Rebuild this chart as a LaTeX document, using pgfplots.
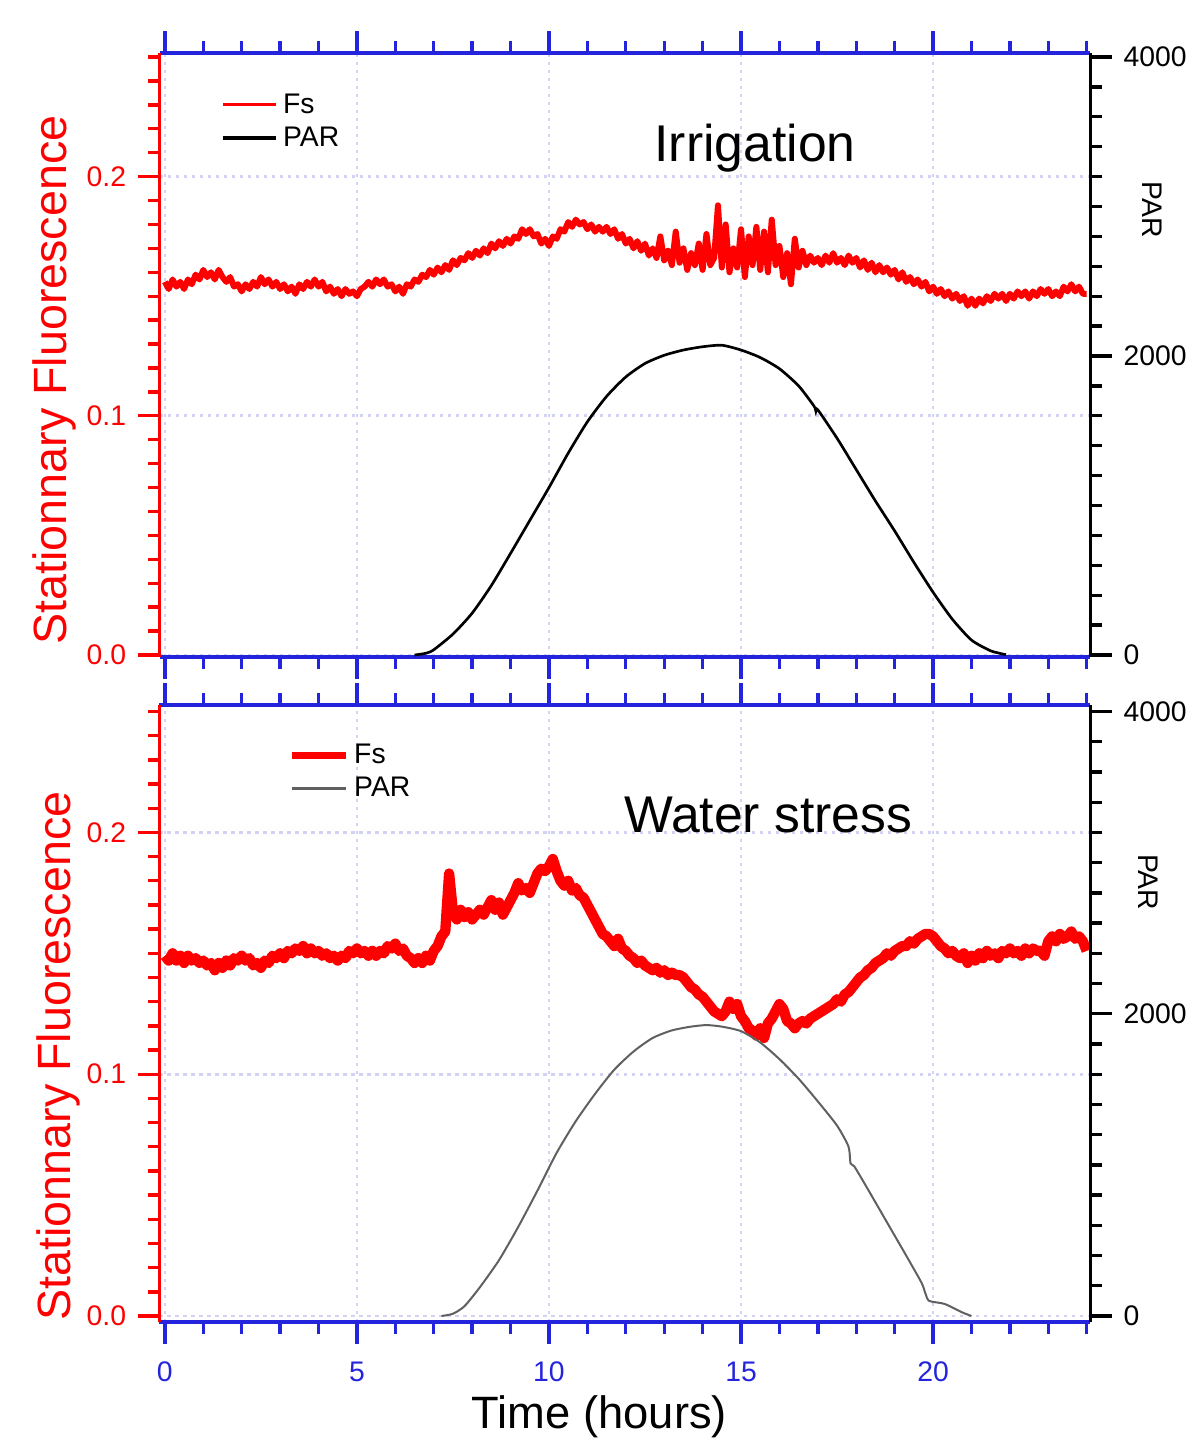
\documentclass[border=0pt]{standalone}
\usepackage{fontspec}
\setmainfont{Liberation Sans}
\usepackage{pgfplots}
\usepackage{pgfplotstable}
\pgfplotsset{compat=1.18}
\definecolor{axBlue}{HTML}{2424DC}
\definecolor{fsRed}{HTML}{FF0000}
\definecolor{gridLav}{HTML}{D2D2F4}
\definecolor{parGray}{HTML}{606060}

% Fs, irrigation
\pgfplotstableread[row sep=\\]{t fs\\
0.0 .156\\0.1 .153\\0.2 .157\\0.3 .154\\0.4 .156\\0.5 .153\\0.6 .157\\0.7 .155\\0.8 .159\\0.9 .157\\
1.0 .161\\1.1 .158\\1.2 .160\\1.3 .157\\1.4 .161\\1.5 .158\\1.6 .156\\1.7 .158\\1.8 .154\\1.9 .155\\
2.0 .152\\2.1 .155\\2.2 .153\\2.3 .156\\2.4 .154\\2.5 .158\\2.6 .155\\2.7 .157\\2.8 .154\\2.9 .156\\
3.0 .153\\3.1 .155\\3.2 .152\\3.3 .154\\3.4 .151\\3.5 .155\\3.6 .153\\3.7 .156\\3.8 .154\\3.9 .157\\
4.0 .154\\4.1 .156\\4.2 .152\\4.3 .154\\4.4 .151\\4.5 .153\\4.6 .150\\4.7 .153\\4.8 .151\\4.9 .152\\
5.0 .150\\5.1 .153\\5.2 .154\\5.3 .156\\5.4 .154\\5.5 .157\\5.6 .155\\5.7 .157\\5.8 .154\\5.9 .155\\
6.0 .152\\6.1 .154\\6.2 .151\\6.3 .155\\6.4 .154\\6.5 .157\\6.6 .156\\6.7 .159\\6.8 .158\\6.9 .161\\
7.0 .159\\7.1 .162\\7.2 .160\\7.3 .163\\7.4 .161\\7.5 .165\\7.6 .163\\7.7 .166\\7.8 .165\\7.9 .168\\
8.0 .166\\8.1 .169\\8.2 .167\\8.3 .170\\8.4 .168\\8.5 .172\\8.6 .170\\8.7 .173\\8.8 .171\\8.9 .174\\
9.0 .172\\9.1 .175\\9.2 .174\\9.3 .178\\9.4 .176\\9.5 .178\\9.6 .175\\9.7 .176\\9.8 .172\\9.9 .174\\
10.0 .171\\10.1 .175\\10.2 .174\\10.3 .178\\10.4 .177\\10.5 .181\\10.6 .179\\10.7 .182\\10.8 .180\\10.9 .181\\
11.0 .178\\11.1 .180\\11.2 .177\\11.3 .179\\11.4 .177\\11.5 .179\\11.6 .176\\11.7 .178\\11.8 .174\\11.9 .176\\
12.0 .172\\12.1 .174\\12.2 .170\\12.3 .173\\12.4 .169\\12.5 .172\\12.6 .167\\12.7 .170\\12.8 .166\\12.9 .175\\
13.0 .165\\13.1 .169\\13.2 .163\\13.3 .177\\13.4 .164\\13.5 .170\\13.6 .161\\13.7 .168\\13.8 .163\\13.9 .172\\
14.0 .161\\14.1 .176\\14.2 .163\\14.3 .166\\14.4 .188\\14.5 .162\\14.6 .180\\14.7 .160\\14.8 .170\\14.9 .162\\
15.0 .178\\15.1 .158\\15.2 .175\\15.3 .163\\15.4 .179\\15.5 .161\\15.6 .177\\15.7 .160\\15.8 .182\\15.9 .163\\
16.0 .171\\16.1 .158\\16.2 .168\\16.3 .155\\16.4 .174\\16.5 .162\\16.6 .169\\16.7 .163\\16.8 .167\\16.9 .164\\
17.0 .166\\17.1 .163\\17.2 .167\\17.3 .164\\17.4 .168\\17.5 .164\\17.6 .166\\17.7 .163\\17.8 .167\\17.9 .164\\
18.0 .166\\18.1 .162\\18.2 .165\\18.3 .161\\18.4 .164\\18.5 .160\\18.6 .163\\18.7 .160\\18.8 .162\\18.9 .159\\
19.0 .161\\19.1 .157\\19.2 .160\\19.3 .156\\19.4 .158\\19.5 .155\\19.6 .157\\19.7 .154\\19.8 .156\\19.9 .152\\
20.0 .154\\20.1 .151\\20.2 .153\\20.3 .150\\20.4 .152\\20.5 .149\\20.6 .151\\20.7 .148\\20.8 .150\\20.9 .146\\
21.0 .149\\21.1 .146\\21.2 .149\\21.3 .147\\21.4 .150\\21.5 .148\\21.6 .151\\21.7 .149\\21.8 .151\\21.9 .148\\
22.0 .151\\22.1 .149\\22.2 .152\\22.3 .150\\22.4 .152\\22.5 .149\\22.6 .152\\22.7 .150\\22.8 .153\\22.9 .151\\
23.0 .153\\23.1 .150\\23.2 .152\\23.3 .150\\23.4 .154\\23.5 .152\\23.6 .155\\23.7 .152\\23.8 .154\\23.9 .151\\
24.0 .151\\
}\fsTop

% Fs, water stress
\pgfplotstableread[row sep=\\]{t fs\\
0.0 .149\\0.1 .147\\0.2 .150\\0.3 .147\\0.4 .149\\0.5 .146\\0.6 .149\\0.7 .147\\0.8 .148\\0.9 .146\\
1.0 .147\\1.1 .145\\1.2 .146\\1.3 .143\\1.4 .146\\1.5 .144\\1.6 .147\\1.7 .145\\1.8 .148\\1.9 .147\\
2.0 .149\\2.1 .147\\2.2 .148\\2.3 .145\\2.4 .146\\2.5 .144\\2.6 .147\\2.7 .146\\2.8 .149\\2.9 .148\\
3.0 .150\\3.1 .148\\3.2 .151\\3.3 .150\\3.4 .152\\3.5 .151\\3.6 .153\\3.7 .150\\3.8 .152\\3.9 .150\\
4.0 .151\\4.1 .149\\4.2 .150\\4.3 .148\\4.4 .149\\4.5 .147\\4.6 .149\\4.7 .148\\4.8 .151\\4.9 .150\\
5.0 .152\\5.1 .150\\5.2 .151\\5.3 .149\\5.4 .151\\5.5 .149\\5.6 .151\\5.7 .150\\5.8 .153\\5.9 .152\\
6.0 .154\\6.1 .151\\6.2 .152\\6.3 .149\\6.4 .148\\6.5 .146\\6.6 .148\\6.7 .146\\6.8 .149\\6.9 .147\\
7.0 .151\\7.1 .153\\7.2 .157\\7.3 .159\\7.4 .183\\7.5 .167\\7.6 .164\\7.7 .168\\7.8 .165\\7.9 .167\\
8.0 .164\\8.1 .166\\8.2 .168\\8.3 .166\\8.4 .169\\8.5 .172\\8.6 .168\\8.7 .171\\8.8 .166\\8.9 .169\\
9.0 .172\\9.1 .175\\9.2 .179\\9.3 .176\\9.4 .177\\9.5 .175\\9.6 .179\\9.7 .183\\9.8 .185\\9.9 .184\\
10.0 .186\\10.1 .189\\10.2 .184\\10.3 .180\\10.4 .178\\10.5 .180\\10.6 .176\\10.7 .177\\10.8 .174\\10.9 .173\\
11.0 .170\\11.1 .167\\11.2 .164\\11.3 .161\\11.4 .158\\11.5 .157\\11.6 .155\\11.7 .153\\11.8 .156\\11.9 .152\\
12.0 .151\\12.1 .149\\12.2 .148\\12.3 .146\\12.4 .147\\12.5 .145\\12.6 .144\\12.7 .143\\12.8 .144\\12.9 .142\\
13.0 .143\\13.1 .141\\13.2 .142\\13.3 .141\\13.4 .141\\13.5 .140\\13.6 .138\\13.7 .136\\13.8 .135\\13.9 .133\\
14.0 .132\\14.1 .130\\14.2 .128\\14.3 .126\\14.4 .125\\14.5 .124\\14.6 .126\\14.7 .130\\14.8 .127\\14.9 .129\\
15.0 .124\\15.1 .122\\15.2 .119\\15.3 .118\\15.4 .116\\15.5 .119\\15.6 .115\\15.7 .121\\15.8 .123\\15.9 .126\\
16.0 .129\\16.1 .127\\16.2 .122\\16.3 .121\\16.4 .119\\16.5 .121\\16.6 .122\\16.7 .121\\16.8 .123\\16.9 .124\\
17.0 .125\\17.1 .126\\17.2 .127\\17.3 .128\\17.4 .129\\17.5 .131\\17.6 .130\\17.7 .133\\17.8 .134\\17.9 .136\\
18.0 .138\\18.1 .140\\18.2 .141\\18.3 .143\\18.4 .144\\18.5 .146\\18.6 .147\\18.7 .148\\18.8 .150\\18.9 .149\\
19.0 .151\\19.1 .152\\19.2 .153\\19.3 .153\\19.4 .155\\19.5 .154\\19.6 .156\\19.7 .157\\19.8 .158\\19.9 .158\\
20.0 .157\\20.1 .155\\20.2 .153\\20.3 .152\\20.4 .150\\20.5 .151\\20.6 .149\\20.7 .148\\20.8 .150\\20.9 .146\\
21.0 .149\\21.1 .147\\21.2 .150\\21.3 .148\\21.4 .151\\21.5 .149\\21.6 .150\\21.7 .148\\21.8 .151\\21.9 .150\\
22.0 .152\\22.1 .150\\22.2 .151\\22.3 .149\\22.4 .152\\22.5 .150\\22.6 .152\\22.7 .151\\22.8 .151\\22.9 .149\\
23.0 .155\\23.1 .157\\23.2 .155\\23.3 .158\\23.4 .156\\23.5 .157\\23.6 .159\\23.7 .156\\23.8 .157\\23.9 .155\\
24.0 .151\\
}\fsBot

% PAR
\pgfplotstableread[row sep=\\]{t par\\
6.5 0\\6.8 12\\7.0 35\\7.5 140\\8.0 280\\8.5 465\\9.0 680\\9.5 900\\10.0 1120\\10.5 1350\\
11.0 1560\\11.5 1730\\12.0 1860\\12.5 1950\\13.0 2005\\13.5 2040\\14.0 2062\\14.5 2072\\15.0 2040\\
15.5 1990\\16.0 1915\\16.5 1800\\16.9 1665\\16.95 1630\\17.0 1640\\17.5 1450\\18.0 1240\\18.5 1030\\
19.0 830\\19.5 620\\20.0 420\\20.5 240\\21.0 100\\21.5 28\\21.9 2\\
}\parTop

\pgfplotstableread[row sep=\\]{t par\\
7.2 0\\7.5 15\\7.8 65\\8.2 190\\8.7 370\\9.2 590\\9.7 830\\10.2 1080\\10.7 1290\\11.2 1470\\
11.7 1630\\12.2 1750\\12.7 1840\\13.2 1890\\13.7 1915\\14.1 1925\\14.5 1915\\15.0 1885\\15.5 1810\\
16.0 1700\\16.5 1570\\17.0 1420\\17.5 1260\\17.8 1120\\17.85 1010\\17.95 990\\18.3 840\\18.8 620\\
19.3 400\\19.7 220\\19.8 150\\19.9 100\\20.3 80\\20.75 25\\21.0 0\\
}\parBot

\pgfplotsset{
  panel/.style={
    scale only axis, width=279.2pt, xmin=-0.14, xmax=24.09, clip=false,
    tick align=outside, major tick length=6.5pt, minor tick length=3.5pt,
    /pgf/number format/assume math mode=true,
    tick label style={font=\fontsize{8.5}{10}\selectfont},
  },
  leftside/.style={
    panel,
    axis y line*=left, ytick pos=left, yticklabel pos=left, xtick pos=both,
    xtick={0,5,10,15,20},
    minor xtick={1,2,3,4,6,7,8,9,11,12,13,14,16,17,18,19,21,22,23,24},
    ytick={0,0.1,0.2},
    minor ytick={0.01,0.02,0.03,0.04,0.05,0.06,0.07,0.08,0.09,0.11,0.12,0.13,0.14,0.15,0.16,0.17,0.18,0.19,0.21,0.22,0.23,0.24,0.25},
    x axis line style={axBlue, line width=1pt, -},
    y axis line style={fsRed, line width=1pt, -},
    x tick style={axBlue, line width=1pt},
    y tick style={fsRed, line width=1pt},
    x tick label style={text=axBlue, yshift=-2pt},
    y tick label style={text=fsRed, /pgf/number format/.cd, fixed, fixed zerofill, precision=1},
    grid=major,
    major grid style={gridLav, line width=0.8pt, dash pattern=on 1pt off 1.4pt},
    legend cell align=left,
    legend image code/.code={\draw[#1] (0pt,0pt) -- (16pt,0pt);},
  },
  rightside/.style={
    panel, axis x line=none, axis y line*=right, ytick pos=right, yticklabel pos=right,
    ytick={0,2000,4000},
    minor ytick={200,400,600,800,1000,1200,1400,1600,1800,2200,2400,2600,2800,3000,3200,3400,3600,3800},
    y axis line style={black, line width=1pt, -},
    y tick style={black, line width=1pt},
    y tick label style={/pgf/number format/1000 sep={}},
  },
  legstyle/.style={draw=none, fill=none, inner sep=0pt, row sep=0pt,
    font=\fontsize{8.5}{10}\selectfont,
    nodes={inner sep=1.45pt, text height=6pt, text depth=1pt},
    /tikz/column 2/.style={column sep=0pt, nodes={inner sep=1.45pt, xshift=1.5pt}}},
}

\begin{document}
\begin{tikzpicture}
% ---- top panel: irrigation
\begin{axis}[leftside, at={(47.85pt,-197.1pt)}, anchor=south west,
  height=181.2pt, ymin=-0.00084, ymax=0.25167, xticklabels={},
  legend style={legstyle, at={(0.0704,1)}, anchor=north west, yshift=-10.4pt, xshift=-1.5pt}]
\addplot[fsRed, line width=1.8pt, line join=round, forget plot] table[x=t, y=fs] {\fsTop};
\addlegendimage{fsRed, line width=0.9pt}
\addlegendentry{Fs}
\addlegendimage{black, line width=1.3pt}
\addlegendentry{PAR}
\node[rotate=90, text=fsRed, font=\fontsize{14}{16}\selectfont] at (rel axis cs:-0.1124,0.4586) {Stationnary Fluorescence};
\node[font=\fontsize{15.5}{18}\selectfont] at (rel axis cs:0.640,0.843) {Irrigation};
\end{axis}
\begin{axis}[rightside, at={(47.85pt,-197.1pt)}, anchor=south west,
  height=181.2pt, ymin=-13.4, ymax=4026.7]
\addplot[black, line width=0.8pt, smooth, tension=0.4] table[x=t, y=par] {\parTop};
\node[rotate=-90, font=\fontsize{8.5}{10}\selectfont] at (rel axis cs:1.067,0.740) {PAR};
\end{axis}
% ---- bottom panel: water stress
\begin{axis}[leftside, at={(47.85pt,-396.6pt)}, anchor=south west,
  height=185.1pt, ymin=-0.00248, ymax=0.25269,
  legend style={legstyle, at={(0.1435,1)}, anchor=north west, yshift=-10.0pt, xshift=-1.5pt}]
\addplot[fsRed, line width=3.1pt, line join=round, forget plot] table[x=t, y=fs] {\fsBot};
\addlegendimage{fsRed, line width=2.2pt}
\addlegendentry{Fs}
\addlegendimage{parGray, line width=1pt}
\addlegendentry{PAR}
\node[rotate=90, text=fsRed, font=\fontsize{14}{16}\selectfont] at (rel axis cs:-0.109,0.431) {Stationnary Fluorescence};
\node[font=\fontsize{15.5}{18}\selectfont] at (rel axis cs:0.654,0.822) {Water stress};
\node[font=\fontsize{13.6}{16}\selectfont, yshift=-28.5pt] at (rel axis cs:0.4727,0) {Time (hours)};
\end{axis}
\begin{axis}[rightside, at={(47.85pt,-396.6pt)}, anchor=south west,
  height=185.1pt, ymin=-39.7, ymax=4043]
\addplot[parGray, line width=0.6pt, smooth, tension=0.4] table[x=t, y=par] {\parBot};
\node[rotate=-90, font=\fontsize{8.5}{10}\selectfont] at (rel axis cs:1.062,0.713) {PAR};
\end{axis}
\pgfresetboundingbox
\path[use as bounding box] (0pt,0pt) rectangle (357.3pt,-431.7pt);
\end{tikzpicture}
\end{document}
